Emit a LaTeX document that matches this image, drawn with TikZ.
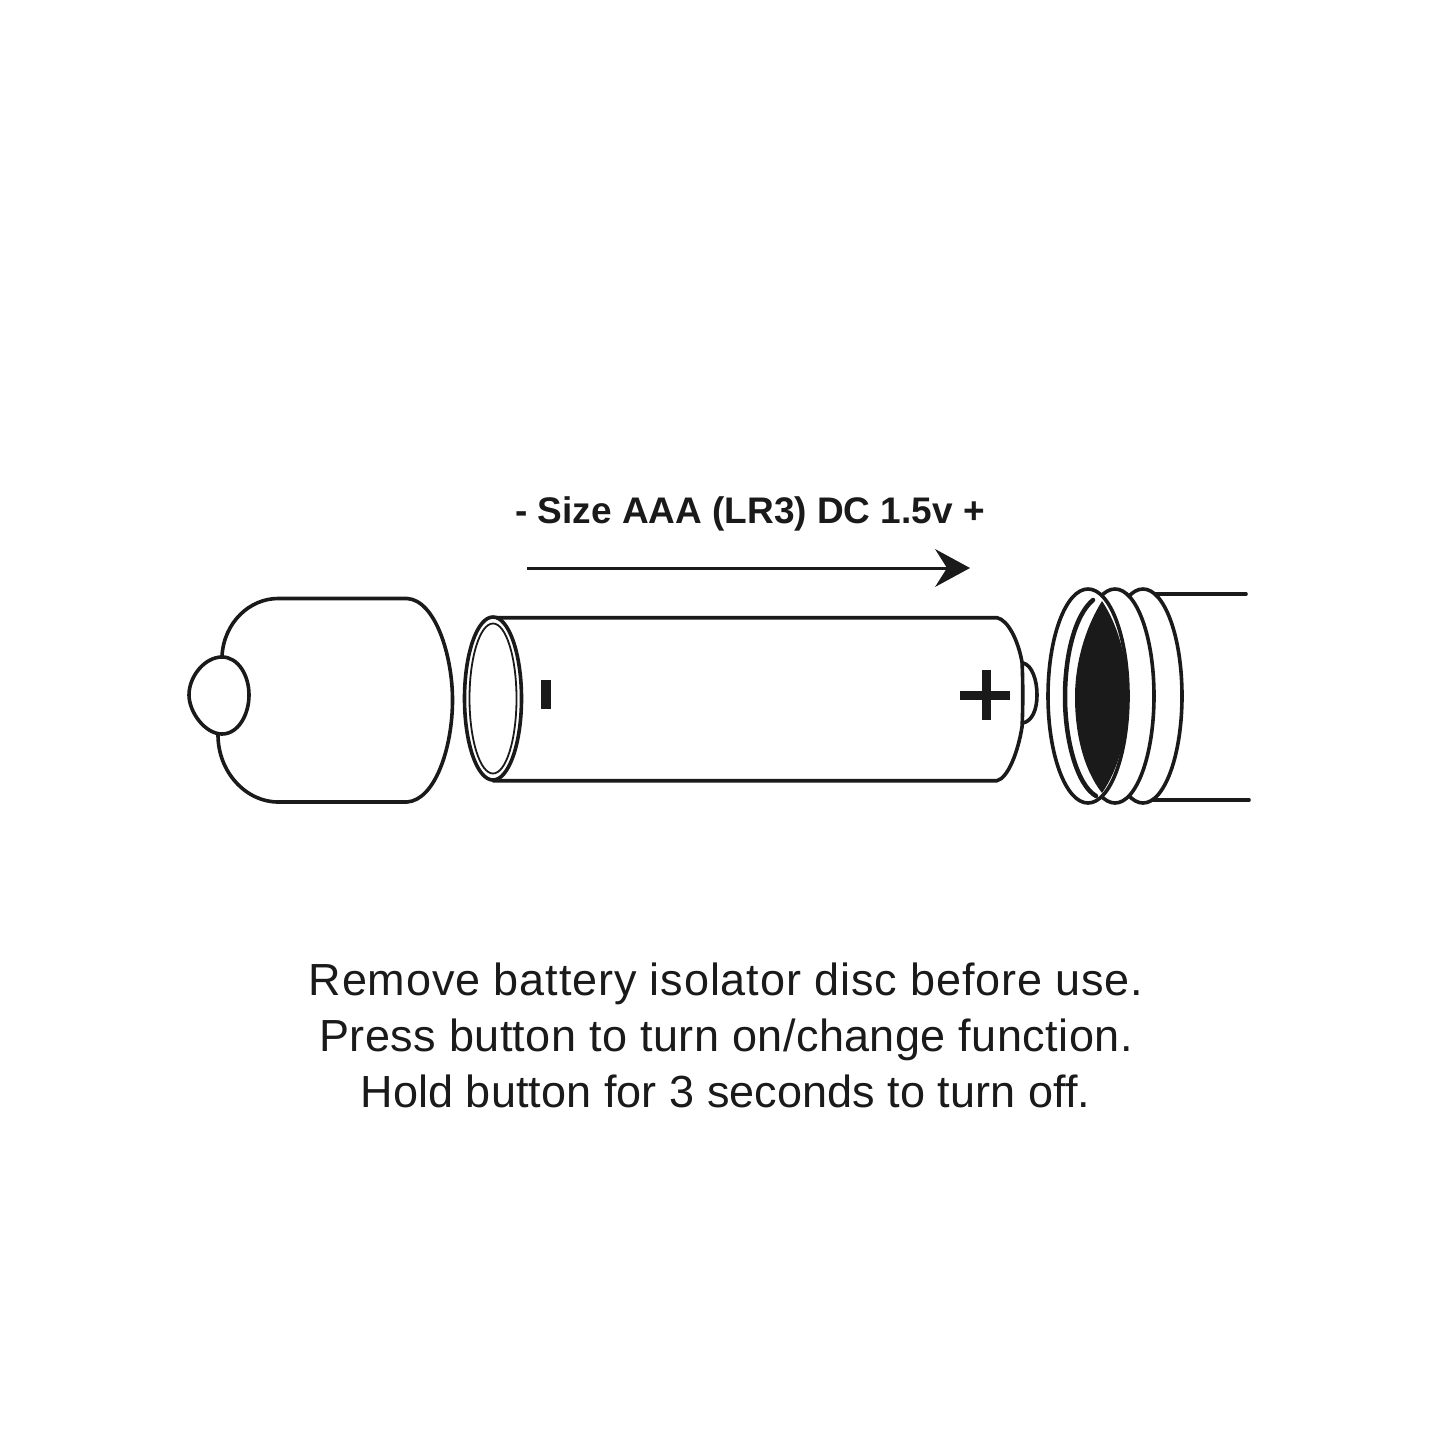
\documentclass[tikz,border=0pt]{standalone}
\usepackage{fontspec}
\setmainfont{Liberation Sans}
\usetikzlibrary{arrows.meta}
\definecolor{ink}{HTML}{1A1A1A}
\tikzset{
  outline/.style={draw=ink,line width=3.6pt,line cap=round,line join=round},
  ring/.style={outline,fill=white},
  caption/.style={text=ink,anchor=base,inner sep=0pt,font=\fontsize{45}{56}\selectfont},
  sizelabel/.style={text=ink,anchor=base,inner sep=0pt,font=\bfseries\fontsize{37}{44}\selectfont},
}
\begin{document}
\begin{tikzpicture}[x=1pt,y=-1pt]
\useasboundingbox[fill=white] (0,0) rectangle (1445,1445);
% label and arrow
\node[sizelabel] (size) at (750,523) {- Size AAA (LR3) DC 1.5v +};
\coordinate (arrowstart) at (527,568);
\coordinate (arrowtip) at (970,568);
\draw[ink,line width=3pt] (arrowstart) -- (948,568);
\fill[ink] (arrowtip) -- (935,549) -- (947,568) -- (935,587) -- cycle;
% cap
\draw[outline] (222,656) .. controls (224,622) and (250,598.5) .. (278,598.5) -- (407,598.5)
  .. controls (435,600) and (452.5,655) .. (452.5,700)
  .. controls (452.5,748) and (435,800) .. (407,802) -- (278,802)
  .. controls (246,802) and (218,772) .. (218,735);
\draw[outline] (222,657) .. controls (238,657) and (249,675) .. (249,695)
  .. controls (249,715) and (238,734) .. (222,734)
  .. controls (205,734) and (189,712) .. (189,695)
  .. controls (189,676) and (205,657) .. (222,657) -- cycle;
% battery
\draw[outline] (493,617.7) -- (997,617.7)
  .. controls (1008,620) and (1018,640) .. (1022,662)
  .. controls (1023,680) and (1023,710) .. (1022,727)
  .. controls (1018,752) and (1008,778) .. (997,780.7) -- (493,780.7);
\draw[outline] (1023,663) .. controls (1032,665) and (1037,680) .. (1037,695)
  .. controls (1037,710) and (1032,721) .. (1023,723);
\draw[ring] (493,698.5) ellipse [x radius=28.5,y radius=81.5];
\draw[draw=ink,line width=1.8pt] (493,698.5) ellipse [x radius=23.5,y radius=75];
\fill[ink] (540.5,680) rectangle (550.5,709);
\fill[ink] (981.5,670) rectangle (990.5,720);
\fill[ink] (960,690.5) rectangle (1010,699.5);
% tube
\draw[outline] (1155,594) -- (1246,594);
\draw[outline] (1150,800) -- (1249,800);
\draw[ring] (1143,696) ellipse [x radius=39,y radius=107];
\draw[ring] (1115,696) ellipse [x radius=39,y radius=107];
\draw[ring] (1088,696) ellipse [x radius=40,y radius=107];
\fill[ink] (1102,601) .. controls (1084,630) and (1075,665) .. (1075,697)
  .. controls (1075,735) and (1084,770) .. (1102,793)
  .. controls (1118,770) and (1128,735) .. (1128,697)
  .. controls (1128,660) and (1118,625) .. (1102,601) -- cycle;
\draw[draw=ink,line width=4.5pt,line cap=round] (1093,600)
  .. controls (1075,615) and (1065,655) .. (1065,697)
  .. controls (1065,740) and (1077,785) .. (1096,796);
% caption
\node[caption] (line1) at (726,995) {\addfontfeature{LetterSpace=1.9}Remove battery isolator disc before use.};
\node[caption] (line2) at (726,1051) {\addfontfeature{LetterSpace=1.0}Press button to turn on/change function.};
\node[caption] (line3) at (725.5,1107) {\addfontfeature{LetterSpace=0.2}Hold button for 3 seconds to turn off.};
\end{tikzpicture}
\end{document}
